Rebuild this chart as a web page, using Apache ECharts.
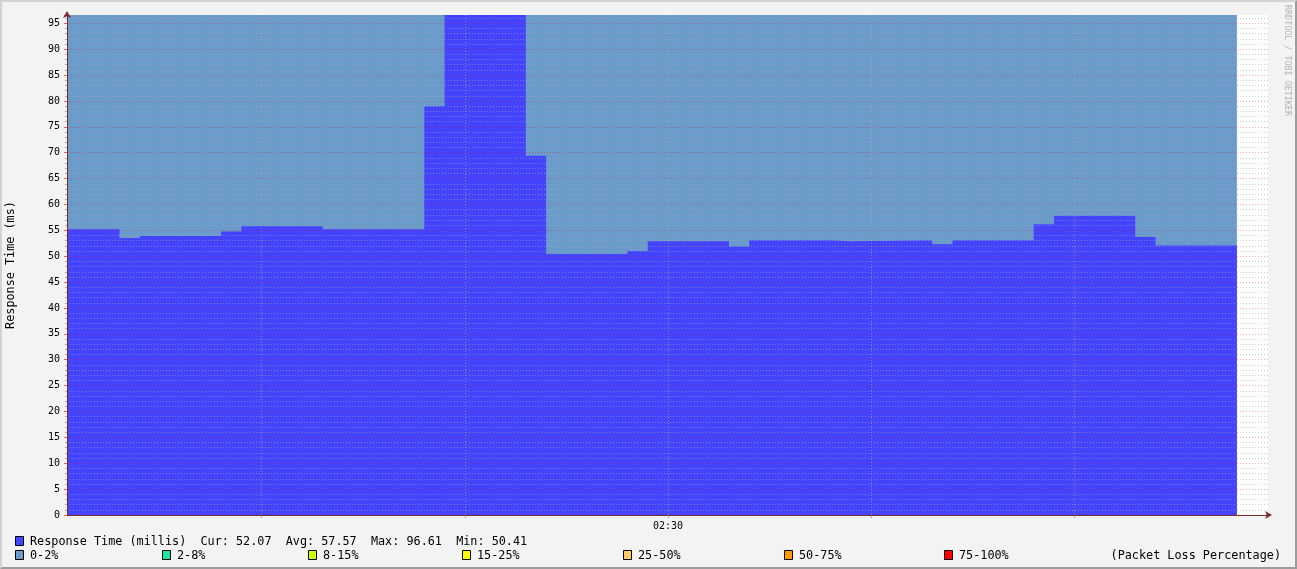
<!DOCTYPE html>
<html><head><meta charset="utf-8">
<script src="https://cdn.jsdelivr.net/npm/echarts@6/dist/echarts.min.js"></script>
<style>
html,body{margin:0;padding:0;background:#f3f3f3}
#wrap{position:relative;width:1297px;height:569px}
#chart{width:1297px;height:569px}
#frame{position:absolute;left:0;top:0;width:1297px;height:569px;box-sizing:border-box;border:2px solid;border-color:#d2d2d2 #9c9c9c #9c9c9c #d2d2d2;pointer-events:none}
</style></head><body>
<div id="wrap"><div id="chart"></div><div id="frame"></div></div>
<script>
// ---- data ----
const segmentStart = ['02:00','02:03','02:04','02:08','02:09','02:13','02:18','02:19','02:23','02:24','02:28',
  '02:29','02:33','02:34','02:38','02:39','02:43','02:44','02:48','02:49','02:53','02:54'];
const dataEnd = '02:58';
const responseMs = [55.2,53.5,53.9,54.8,55.8,55.2,79.0,96.61,69.4,50.41,51.0,
  52.9,51.9,53.1,52.9,53.1,52.3,53.1,56.2,57.8,53.7,52.07];
const lossPct = [0,0,0,0,0,0,0,0,0,0,0,0,0,0,0,0,0,0,0,0,0,0];
const axisStart = '02:00:25';
const axisEnd = '02:59:32';
const xLabels = ['02:30'];
const yTop = 96.61;
const rtLegend = 'Response Time (millis)';
const statNames = ['Cur','Avg','Max','Min'];
const statValues = ['52.07','57.57','96.61','50.41'];
const lossBands = ['0-2%','2-8%','8-15%','15-25%','25-50%','50-75%','75-100%'];
const lossUpper = [2,8,15,25,50,75,100];
const lossColors = ['#6b9bcb','#1ee6a4','#ccff00','#ffff00','#ffc966','#ff9900','#ff0000'];
const lossTitle = '(Packet Loss Percentage)';

// ---- helpers ----
const MONO = "'DejaVu Sans Mono', monospace";
function toMin(s){const p=s.split(':').map(Number);return p[0]*60+p[1]+(p[2]||0)/60;}
function fmt(v){const h=Math.floor(v/60+1e-9),m=Math.round(v-h*60);return String(h).padStart(2,'0')+':'+String(m).padStart(2,'0');}
function bandColor(p){for(let i=0;i<lossUpper.length;i++){if(p<=lossUpper[i])return lossColors[i];}return lossColors[lossColors.length-1];}

const xs = segmentStart.map(toMin).concat([toMin(dataEnd)]);
const rtData = xs.map((x,i)=>[x, responseMs[Math.min(i,responseMs.length-1)]]);
const lossSeries = [];
let gStart=0;
for(let i=1;i<=lossPct.length;i++){
  if(i===lossPct.length || bandColor(lossPct[i])!==bandColor(lossPct[gStart])){
    const d=[];
    for(let k=gStart;k<=i;k++) d.push([xs[k], yTop]);
    lossSeries.push({type:'line',step:'end',symbol:'none',silent:true,z:1,
      lineStyle:{width:0},areaStyle:{color:bandColor(lossPct[gStart]),opacity:1},data:d});
    gStart=i;
  }
}

const AXIS_C = '#7a2a2a';
const FS = 11.8;
const graphics = [];
graphics.push({type:'rect',shape:{x:15.5,y:536.5,width:8,height:9},style:{fill:'#4444ff',stroke:'#000',lineWidth:1}});
graphics.push({type:'text',x:30,y:541.5,style:{text:rtLegend+'  '+statNames.map((n,i)=>n+': '+statValues[i]).join('  '),
  fontFamily:MONO,fontSize:FS,fill:'#000',verticalAlign:'middle',align:'left'}});
const bandX = [15,162,308,462,623,784,944];
lossBands.forEach((b,i)=>{
  graphics.push({type:'rect',shape:{x:bandX[i]+0.5,y:550.5,width:8,height:9},style:{fill:lossColors[i],stroke:'#000',lineWidth:1}});
  graphics.push({type:'text',x:bandX[i]+15,y:555.5,style:{text:b,fontFamily:MONO,fontSize:FS,fill:'#000',verticalAlign:'middle',align:'left'}});
});
graphics.push({type:'text',x:1281,y:555.5,style:{text:lossTitle,fontFamily:MONO,fontSize:FS,fill:'#000',verticalAlign:'middle',align:'right'}});
graphics.push({type:'text',x:1287,y:5,rotation:-Math.PI/2,style:{text:'RRDTOOL / TOBI OETIKER',fontFamily:MONO,fontSize:8.4,fill:'#b4b4b4',verticalAlign:'middle',align:'left'}});

const chart = echarts.init(document.getElementById('chart'),null,{renderer:'canvas'});
chart.setOption({
  animation:false,
  backgroundColor:'#f3f3f3',
  grid:{left:67,right:29,top:15,bottom:54,show:true,backgroundColor:'#ffffff',borderWidth:0,containLabel:false,outerBoundsMode:'none'},
  xAxis:{type:'value',min:toMin(axisStart),max:toMin(axisEnd),splitNumber:6,z:3,
    axisLine:{show:true,lineStyle:{color:AXIS_C,width:1},symbol:['none','arrow'],symbolSize:[6,7],symbolOffset:[0,4]},
    axisTick:{show:true,length:3,lineStyle:{color:'rgba(140,140,140,0.8)'}},
    axisLabel:{margin:6,fontFamily:MONO,fontSize:10,color:'#000',showMinLabel:false,showMaxLabel:false,
      formatter:v=>xLabels.includes(fmt(v))&&Math.abs(v-Math.round(v))<1e-6?fmt(v):''},
    splitLine:{show:true,showMinLine:false,showMaxLine:false,lineStyle:{color:'rgba(170,170,170,0.6)',type:[1,2],width:1}}
  },
  yAxis:{type:'value',min:0,max:yTop,interval:5,z:3,
    name:'Response Time (ms)',nameLocation:'middle',nameGap:50,
    nameTextStyle:{fontFamily:MONO,fontSize:FS,color:'#000'},
    axisLine:{show:true,lineStyle:{color:AXIS_C,width:1},symbol:['none','arrow'],symbolSize:[6,7],symbolOffset:[0,4]},
    axisTick:{show:true,length:3,lineStyle:{color:'rgba(220,40,40,0.7)'}},
    minorTick:{show:true,splitNumber:5,length:2,lineStyle:{color:'rgba(140,140,140,0.7)'}},
    axisLabel:{margin:7,fontFamily:MONO,fontSize:10,color:'#000',showMaxLabel:false,
      formatter:v=>Math.abs(v%5)<1e-6?String(v):''},
    splitLine:{show:true,showMinLine:false,showMaxLine:false,lineStyle:{color:'rgba(255,0,0,0.35)',type:[1,2],width:1}},
    minorSplitLine:{show:true,lineStyle:{color:'rgba(170,170,170,0.55)',type:[1,2],width:1}}
  },
  graphic:graphics,
  series:lossSeries.concat([
    {name:rtLegend,type:'line',step:'end',symbol:'none',z:2,lineStyle:{width:0},
     areaStyle:{color:'#4444ff',opacity:1},data:rtData}
  ])
});
</script>
</body></html>
